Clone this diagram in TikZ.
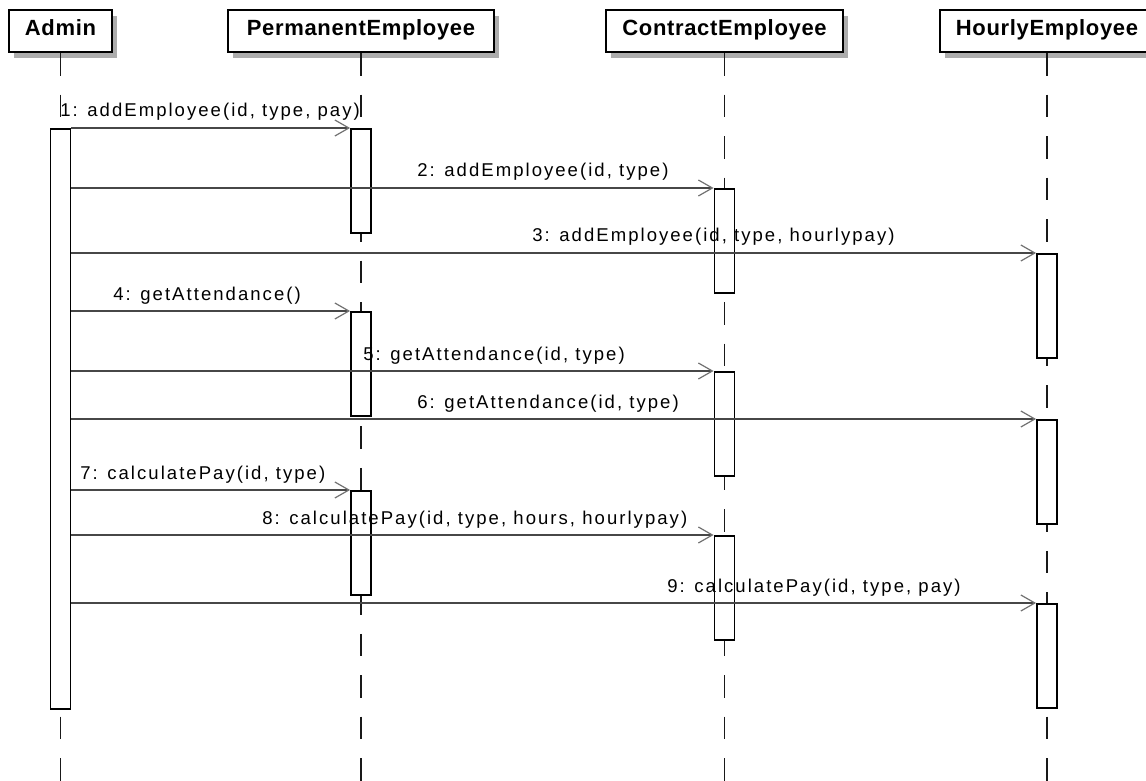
\documentclass[tikz,border=0pt]{standalone}
\usepackage{fontspec}
\newfontfamily\lblfont[LetterSpace=11]{Liberation Sans}
\newfontfamily\hdrfont[LetterSpace=3]{Liberation Sans}
\usetikzlibrary{arrows.meta,shadows}

\begin{document}
\begin{tikzpicture}[x=0.75pt,y=-0.75pt,
  hdr/.style={draw=black, line width=1.4pt, fill=white, inner sep=0pt,
    text height=12pt, text depth=5.2pt, minimum height=32pt,
    font={\hdrfont\bfseries\fontsize{16.5pt}{19pt}\selectfont},
    drop shadow={shadow xshift=3.5pt, shadow yshift=-4.5pt, fill=black!32, opacity=1}},
  life/.style={draw=black!90, line width=1.3pt, dash pattern=on 16.9pt off 14.2pt},
  act/.style={draw=black, line width=1.4pt, fill=white, inner sep=0pt,
    minimum width=15pt, minimum height=78pt, anchor=north},
  msg/.style={draw=black!72, line width=0.9pt,
    -{Straight Barb[length=10.5pt, width=12pt, line width=0.9pt, color=black!55]}},
  lbl/.style={anchor=base west, inner sep=0pt, text=black,
    font={\lblfont\fontsize{13.9pt}{16pt}\selectfont}}
]
% page area
\fill[white] (0,0) rectangle (1146,781);
\useasboundingbox (0,0) rectangle (1146,781);

% lifeline ends at the bottom edge
\coordinate (adminEnd) at (60.5,790);
\coordinate (permEnd)  at (361,790);
\coordinate (contEnd)  at (724.5,790);
\coordinate (hourEnd)  at (1047,790);

% participant headers
\node[hdr, minimum width=77.25pt]  (admin) at (60.5,31)  {Admin};
\node[hdr, minimum width=199.5pt]  (perm)  at (361,31)   {PermanentEmployee};
\node[hdr, minimum width=177.75pt] (cont)  at (724.5,31) {ContractEmployee};
\node[hdr, minimum width=160.5pt]  (hour)  at (1047,31)  {HourlyEmployee};

% lifelines
\draw[life] (admin.south) -- (adminEnd);
\draw[life] (perm.south)  -- (permEnd);
\draw[life] (cont.south)  -- (contEnd);
\draw[life] (hour.south)  -- (hourEnd);

% activation bars
\node[act, minimum height=435pt] (a0) at (60.5,128) {};
\node[act] (p1) at (361,128) {};
\node[act] (p2) at (361,311) {};
\node[act] (p3) at (361,490) {};
\node[act] (c1) at (724.5,188) {};
\node[act] (c2) at (724.5,371) {};
\node[act] (c3) at (724.5,535) {};
\node[act] (h1) at (1047,253) {};
\node[act] (h2) at (1047,419) {};
\node[act] (h3) at (1047,603) {};

% messages
\draw[msg] (a0.east |- p1.north west) -- (p1.north west);
\draw[msg] (a0.east |- c1.north west) -- (c1.north west);
\draw[msg] (a0.east |- h1.north west) -- (h1.north west);
\draw[msg] (a0.east |- p2.north west) -- (p2.north west);
\draw[msg] (a0.east |- c2.north west) -- (c2.north west);
\draw[msg] (a0.east |- h2.north west) -- (h2.north west);
\draw[msg] (a0.east |- p3.north west) -- (p3.north west);
\draw[msg] (a0.east |- c3.north west) -- (c3.north west);
\draw[msg] (a0.east |- h3.north west) -- (h3.north west);

% message labels
\node[lbl] (l1) at (60,117)  {1: addEmployee(id, type, pay)};
\node[lbl] (l2) at (417,177) {2: addEmployee(id, type)};
\node[lbl] (l3) at (532,242) {3: addEmployee(id, type, hourlypay)};
\node[lbl] (l4) at (113,300) {4: getAttendance()};
\node[lbl] (l5) at (363,360) {5: getAttendance(id, type)};
\node[lbl] (l6) at (417,408) {6: getAttendance(id, type)};
\node[lbl] (l7) at (80,479)  {7: calculatePay(id, type)};
\node[lbl] (l8) at (262,524) {8: calculatePay(id, type, hours, hourlypay)};
\node[lbl] (l9) at (667,592) {9: calculatePay(id, type, pay)};
\end{tikzpicture}
\end{document}
